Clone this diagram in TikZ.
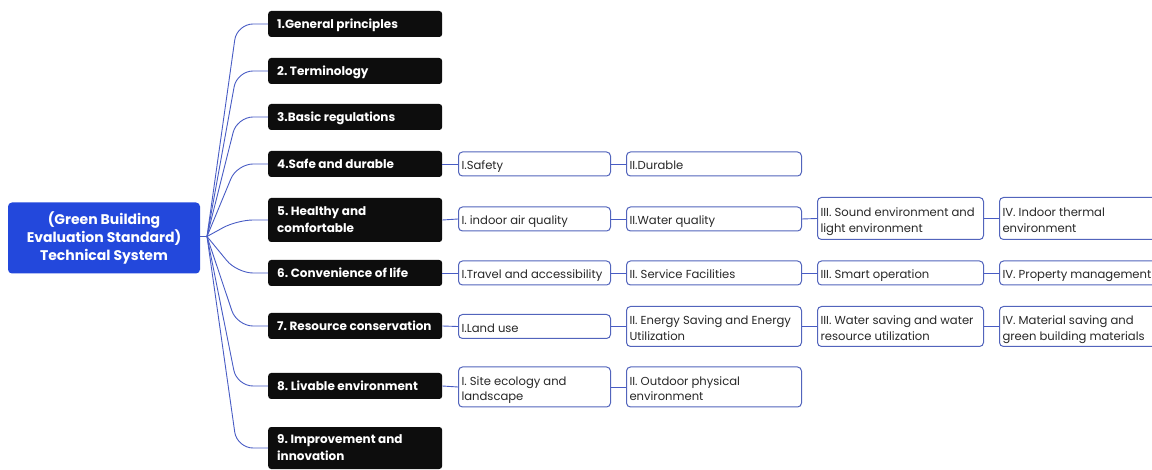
\documentclass[tikz,border=0pt]{standalone}
\usepackage{fontspec}
\setmainfont{Poppins}
\frenchspacing
\definecolor{rootblue}{RGB}{35,72,220}
\definecolor{linkblue}{RGB}{72,92,196}
\definecolor{boxline}{RGB}{82,100,188}
\definecolor{txt}{RGB}{40,40,40}
% #1 width, #2 top height, #3 declared depth, #4 text
\newcommand\boxlab[4]{\makebox[#1][l]{\raisebox{0pt}[#2][#3]{\begin{tabular}[t]{@{}l@{}}#4\end{tabular}}}}
\newcommand\catlab[2][0pt]{\boxlab{156pt}{8.6pt}{#1}{#2}}
\newcommand\sublab[3][0pt]{\boxlab{#2}{12pt}{#1}{#3}}
\begin{document}
\begin{tikzpicture}[x=1pt,y=-1pt,
  rootbox/.style={fill=rootblue, text=white, rounded corners=4pt, font=\fontsize{14}{18}\selectfont\bfseries, align=center, minimum width=192pt, minimum height=71pt, inner sep=0pt},
  cat/.style={fill=black!95, text=white, rounded corners=3pt, font=\fontsize{12}{17}\selectfont\bfseries, anchor=west, inner xsep=9pt, inner ysep=0pt, minimum height=#1},
  cat/.default=26pt,
  sub/.style={draw=boxline, line width=1pt, fill=white, rounded corners=4pt, text=txt, font=\fontsize{11.6}{16}\selectfont, anchor=west, inner xsep=3pt, inner ysep=0pt},
  link/.style={draw=linkblue, line width=0.9pt}
]
\useasboundingbox (0,0) rectangle (1152,470);
\clip (0,0) rectangle (1152,470);

\node[rootbox] (root) at (104,238) {(Green Building\\Evaluation Standard)\\Technical System};
\coordinate (fork) at (207,236.5);

\node[cat] (b1) at (268,24) {\catlab{1.General principles}};
\node[cat] (b2) at (268,71) {\catlab{2. Terminology}};
\node[cat] (b3) at (268,117) {\catlab{3.Basic regulations}};
\node[cat] (b4) at (268,164) {\catlab{4.Safe and durable}};
\node[cat=44pt] (b5) at (268,220) {\catlab[17pt]{5. Healthy and\\comfortable}};
\node[cat] (b6) at (268,273) {\catlab{6. Convenience of life}};
\node[cat] (b7) at (268,326) {\catlab{7. Resource conservation}};
\node[cat] (b8) at (268,386) {\catlab{8. Livable environment}};
\node[cat=42pt] (b9) at (268,448) {\catlab[17pt]{9. Improvement and\\innovation}};

% row 4
\node[sub, minimum height=24pt] (r4a) at (458,164) {\sublab{146pt}{I.Safety}};
\node[sub, minimum height=24pt] (r4b) at (626,164) {\sublab{169pt}{II.Durable}};
% row 5
\node[sub, minimum height=24pt] (r5a) at (458,219) {\sublab{146pt}{I. indoor air quality}};
\node[sub, minimum height=24pt] (r5b) at (626,219) {\sublab{169pt}{II.Water quality}};
\node[sub, minimum height=42pt] (r5c) at (817,218.5) {\sublab[16pt]{160pt}{III. Sound environment and\\light environment}};
\node[sub, minimum height=42pt] (r5d) at (999,218.5) {\sublab[16pt]{170pt}{IV. Indoor thermal\\environment}};
% row 6
\node[sub, minimum height=24pt] (r6a) at (458,273) {\sublab{146pt}{I.Travel and accessibility}};
\node[sub, minimum height=24pt] (r6b) at (626,273) {\sublab{169pt}{II. Service Facilities}};
\node[sub, minimum height=24pt] (r6c) at (817,273) {\sublab{160pt}{III. Smart operation}};
\node[sub, minimum height=24pt] (r6d) at (999,273) {\sublab{170pt}{IV. Property management}};
% row 7
\node[sub, minimum height=24pt] (r7a) at (458,326.5) {\sublab{146pt}{I.Land use}};
\node[sub, minimum height=40pt] (r7b) at (626,326.5) {\sublab[16pt]{169pt}{II. Energy Saving and Energy\\Utilization}};
\node[sub, minimum height=40pt] (r7c) at (817,326.5) {\sublab[16pt]{160pt}{III. Water saving and water\\resource utilization}};
\node[sub, minimum height=40pt] (r7d) at (999,326.5) {\sublab[16pt]{170pt}{IV. Material saving and\\green building materials}};
% row 8
\node[sub, minimum height=40pt] (r8a) at (458,387) {\sublab[16pt]{146pt}{I. Site ecology and\\landscape}};
\node[sub, minimum height=40pt] (r8b) at (626,387) {\sublab[16pt]{169pt}{II. Outdoor physical\\environment}};

% root connectors
\draw[link] (root.east |- fork) -- (fork);
\foreach \i/\yy in {1/24,2/71,3/117,4/164,5/220,6/273,7/326,8/386,9/448}{
  \draw[link, rounded corners=16pt] (fork) -- (237,\yy) -- (b\i.west);
}

% row connectors
\draw[link] (b4.east) -- (r4a.west);
\draw[link] (r4a.east) -- (r4b.west);
\draw[link] (b5.east) -- (r5a.west);
\draw[link] (r5a.east) -- (r5b.west);
\draw[link] (r5b.east) -- (r5c.west);
\draw[link] (r5c.east) -- (r5d.west);
\draw[link] (b6.east) -- (r6a.west);
\draw[link] (r6a.east) -- (r6b.west);
\draw[link] (r6b.east) -- (r6c.west);
\draw[link] (r6c.east) -- (r6d.west);
\draw[link] (b7.east) -- (r7a.west);
\draw[link] (r7a.east) -- (r7b.west);
\draw[link] (r7b.east) -- (r7c.west);
\draw[link] (r7c.east) -- (r7d.west);
\draw[link] (b8.east) -- (r8a.west);
\draw[link] (r8a.east) -- (r8b.west);
\end{tikzpicture}
\end{document}
